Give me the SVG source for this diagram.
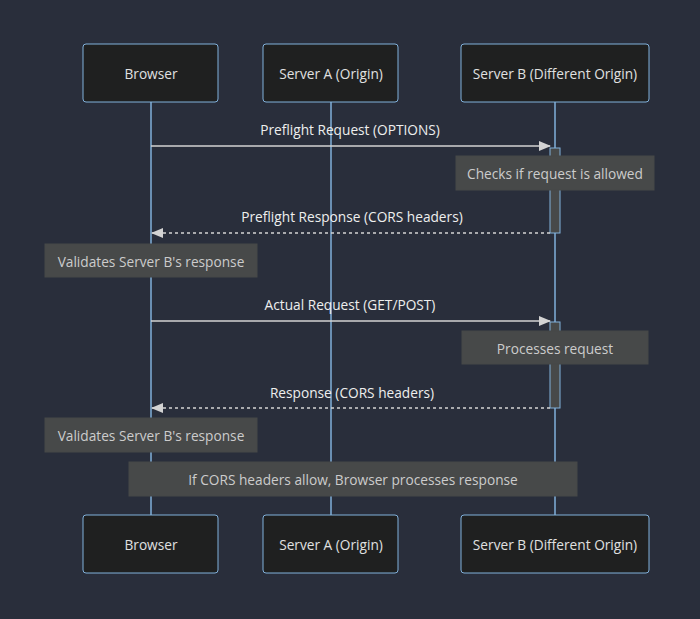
<svg xmlns="http://www.w3.org/2000/svg" width="700" height="619" viewBox="0 0 700 619">
<defs>
<style>
text{font-family:"Open Sans","DejaVu Sans",sans-serif;font-size:13.7px;text-anchor:middle;dominant-baseline:central}
.actor rect{fill:#1f2020;stroke:#81b1db;stroke-width:1}
.actor text{fill:#e0e0e0}
.life{stroke:#81b1db;stroke-width:1.5}
.msg{stroke:#d3d3d3;stroke-width:1.5;fill:none}
.dash{stroke-dasharray:3,3}
.mtext{fill:#eeeeee}
.note rect{fill:#474949;stroke:#474949}
.note text{fill:#cccccc}
.act{fill:#474949;stroke:#81b1db;stroke-width:1}
</style>
<marker id="ah" viewBox="0 0 12 10" refX="11" refY="5" markerWidth="12" markerHeight="10" markerUnits="userSpaceOnUse" orient="auto">
<path d="M0,0 L12,5 L0,10 z" fill="#d3d3d3"/>
</marker>
</defs>
<rect width="700" height="619" fill="#292e3b"/>
<g id="lifelines">
<line class="life" x1="151" y1="102" x2="151" y2="515"/>
<line class="life" x1="331" y1="102" x2="331" y2="515"/>
<line class="life" x1="555" y1="102" x2="555" y2="515"/>
</g>
<g id="activations">
<rect class="act" x="550" y="148" width="10" height="85"/>
<rect class="act" x="550" y="322" width="10" height="86"/>
</g>
<g id="browser-top" class="actor"><rect x="83" y="44" width="135" height="58" rx="3"/><text x="151" y="73">Browser</text></g>
<g id="serverA-top" class="actor"><rect x="263" y="44" width="135" height="58" rx="3"/><text x="331" y="73">Server A (Origin)</text></g>
<g id="serverB-top" class="actor"><rect x="461" y="44" width="188" height="58" rx="3"/><text x="555" y="73">Server B (Different Origin)</text></g>
<g id="connectors">
<line class="msg" x1="151" y1="146" x2="550" y2="146" marker-end="url(#ah)"/>
<text class="mtext" x="350" y="129">Preflight Request (OPTIONS)</text>
<line class="msg dash" x1="550" y1="233" x2="152" y2="233" marker-end="url(#ah)"/>
<text class="mtext" x="352" y="216">Preflight Response (CORS headers)</text>
<line class="msg" x1="151" y1="321" x2="550" y2="321" marker-end="url(#ah)"/>
<text class="mtext" x="350" y="304">Actual Request (GET/POST)</text>
<line class="msg dash" x1="550" y1="408" x2="152" y2="408" marker-end="url(#ah)"/>
<text class="mtext" x="352" y="392">Response (CORS headers)</text>
</g>
<g id="note-checks" class="note"><rect x="456" y="156" width="198" height="34"/><text x="555" y="173">Checks if request is allowed</text></g>
<g id="note-validates-1" class="note"><rect x="45" y="244" width="212" height="33"/><text x="151" y="261">Validates Server B's response</text></g>
<g id="note-processes" class="note"><rect x="462" y="331" width="186" height="33"/><text x="555" y="348">Processes request</text></g>
<g id="note-validates-2" class="note"><rect x="45" y="418" width="212" height="34"/><text x="151" y="435">Validates Server B's response</text></g>
<g id="note-cors" class="note"><rect x="129" y="462" width="448" height="34"/><text x="353" y="479">If CORS headers allow, Browser processes response</text></g>
<g id="browser-bottom" class="actor"><rect x="83" y="515" width="135" height="58" rx="3"/><text x="151" y="544">Browser</text></g>
<g id="serverA-bottom" class="actor"><rect x="263" y="515" width="135" height="58" rx="3"/><text x="331" y="544">Server A (Origin)</text></g>
<g id="serverB-bottom" class="actor"><rect x="461" y="515" width="188" height="58" rx="3"/><text x="555" y="544">Server B (Different Origin)</text></g>
</svg>
